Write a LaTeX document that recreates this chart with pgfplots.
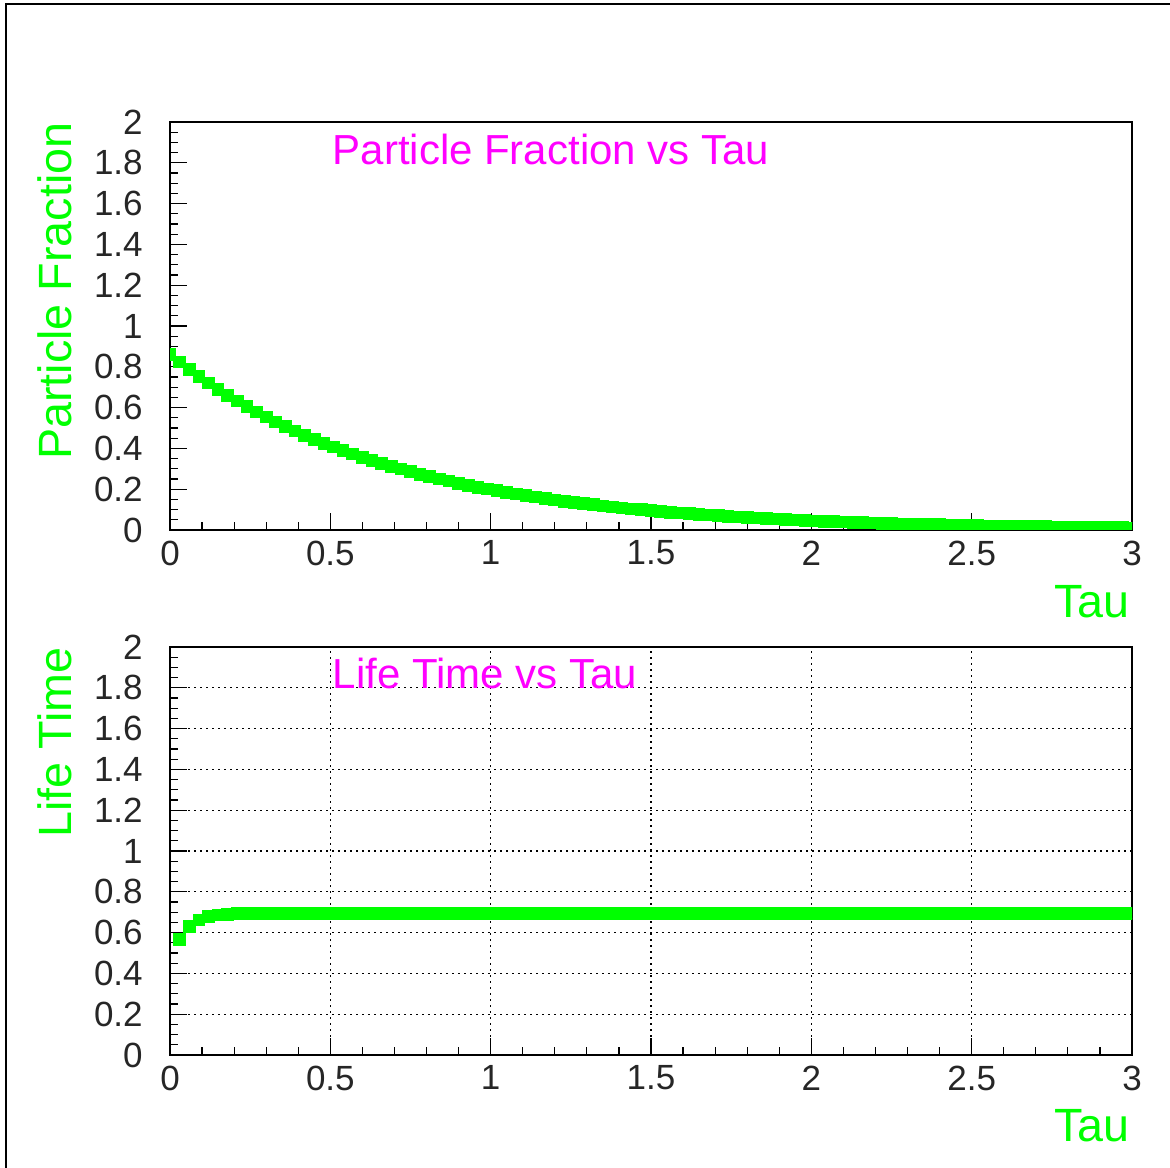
\documentclass[border=0pt]{standalone}
\usepackage{fontspec}
\setmainfont{Liberation Sans}
\usepackage{pgfplots}
\pgfplotsset{compat=1.18}
\definecolor{rgreen}{RGB}{0,255,0}
\definecolor{rmagenta}{RGB}{255,0,255}

\pgfplotsset{
  rootpad/.style={
    scale only axis,
    width=288.6pt, height=122.4pt,
    xmin=0, xmax=3, ymin=0, ymax=2,
    xtick={0,0.5,...,3}, ytick={0,0.2,...,2},
    minor x tick num=4, minor y tick num=3,
    xtick pos=lower, ytick pos=lower,
    tick align=inside,
    major tick length=5.1pt, minor tick length=2.5pt,
    tick style={black, line width=0.35pt},
    axis line style={line width=0.35pt},
    /pgf/number format/assume math mode=true,
    ticklabel style={font=\fontsize{10.5}{12}\selectfont, text=black!85},
    xticklabel style={anchor=north, inner sep=0pt, yshift=-3pt},
    yticklabel style={anchor=east, inner sep=0pt, xshift=-8pt},
    clip=true, clip marker paths=true,
  },
  sq/.style={only marks, mark=square*, mark size=1.7pt,
    mark options={draw=rgreen, fill=rgreen}},
}

\begin{document}
\begin{tikzpicture}[x=0.3pt, y=0.3pt]
\useasboundingbox (0,0) rectangle (1170,1168);
\draw[line width=0.4pt] (6,0) -- (6,1164) -- (1170,1164);

% upper pad
\begin{axis}[rootpad, at={(51pt,191.4pt)}, anchor=south west]
\addplot[sq] coordinates {
(0.00,0.8600) (0.03,0.8229) (0.06,0.7874) (0.09,0.7534) (0.12,0.7209)
(0.15,0.6898) (0.18,0.6601) (0.21,0.6316) (0.24,0.6044) (0.27,0.5783)
(0.30,0.5533) (0.33,0.5295) (0.36,0.5066) (0.39,0.4848) (0.42,0.4639)
(0.45,0.4438) (0.48,0.4247) (0.51,0.4064) (0.54,0.3888) (0.57,0.3721)
(0.60,0.3560) (0.63,0.3407) (0.66,0.3260) (0.69,0.3119) (0.72,0.2984)
(0.75,0.2856) (0.78,0.2733) (0.81,0.2615) (0.84,0.2502) (0.87,0.2394)
(0.90,0.2291) (0.93,0.2192) (0.96,0.2097) (0.99,0.2007) (1.02,0.1920)
(1.05,0.1837) (1.08,0.1758) (1.11,0.1682) (1.14,0.1610) (1.17,0.1540)
(1.20,0.1474) (1.23,0.1410) (1.26,0.1349) (1.29,0.1291) (1.32,0.1236)
(1.35,0.1182) (1.38,0.1131) (1.41,0.1082) (1.44,0.1036) (1.47,0.0991)
(1.50,0.0948) (1.53,0.0907) (1.56,0.0868) (1.59,0.0831) (1.62,0.0795)
(1.65,0.0761) (1.68,0.0728) (1.71,0.0696) (1.74,0.0666) (1.77,0.0638)
(1.80,0.0610) (1.83,0.0584) (1.86,0.0559) (1.89,0.0535) (1.92,0.0511)
(1.95,0.0489) (1.98,0.0468) (2.01,0.0448) (2.04,0.0429) (2.07,0.0410)
(2.10,0.0393) (2.13,0.0376) (2.16,0.0359) (2.19,0.0344) (2.22,0.0329)
(2.25,0.0315) (2.28,0.0301) (2.31,0.0288) (2.34,0.0276) (2.37,0.0264)
(2.40,0.0253) (2.43,0.0242) (2.46,0.0231) (2.49,0.0221) (2.52,0.0212)
(2.55,0.0203) (2.58,0.0194) (2.61,0.0185) (2.64,0.0177) (2.67,0.0170)
(2.70,0.0163) (2.73,0.0156) (2.76,0.0149) (2.79,0.0142) (2.82,0.0136)
(2.85,0.0130) (2.88,0.0125) (2.91,0.0119) (2.94,0.0114) (2.97,0.0109)
(3.00,0.0105)
};
\end{axis}

% lower pad
\begin{axis}[rootpad, at={(51pt,33.9pt)}, anchor=south west,
  grid=major, major grid style={black, line width=0.4pt, dash pattern=on 0.5pt off 1.3pt}]
\addplot[sq] coordinates {
(0.03,0.567) (0.06,0.629) (0.09,0.662) (0.12,0.678) (0.15,0.686)
(0.18,0.690) (0.21,0.692) (0.24,0.693) (0.27,0.694) (0.30,0.694)
(0.33,0.694) (0.36,0.694) (0.39,0.694) (0.42,0.694) (0.45,0.694)
(0.48,0.694) (0.51,0.694) (0.54,0.694) (0.57,0.694) (0.60,0.694)
(0.63,0.694) (0.66,0.694) (0.69,0.694) (0.72,0.694) (0.75,0.694)
(0.78,0.694) (0.81,0.694) (0.84,0.694) (0.87,0.694) (0.90,0.694)
(0.93,0.694) (0.96,0.694) (0.99,0.694) (1.02,0.694) (1.05,0.694)
(1.08,0.694) (1.11,0.694) (1.14,0.694) (1.17,0.694) (1.20,0.694)
(1.23,0.694) (1.26,0.694) (1.29,0.694) (1.32,0.694) (1.35,0.694)
(1.38,0.694) (1.41,0.694) (1.44,0.694) (1.47,0.694) (1.50,0.694)
(1.53,0.694) (1.56,0.694) (1.59,0.694) (1.62,0.694) (1.65,0.694)
(1.68,0.694) (1.71,0.694) (1.74,0.694) (1.77,0.694) (1.80,0.694)
(1.83,0.694) (1.86,0.694) (1.89,0.694) (1.92,0.694) (1.95,0.694)
(1.98,0.694) (2.01,0.694) (2.04,0.694) (2.07,0.694) (2.10,0.694)
(2.13,0.694) (2.16,0.694) (2.19,0.694) (2.22,0.694) (2.25,0.694)
(2.28,0.694) (2.31,0.694) (2.34,0.694) (2.37,0.694) (2.40,0.694)
(2.43,0.694) (2.46,0.694) (2.49,0.694) (2.52,0.694) (2.55,0.694)
(2.58,0.694) (2.61,0.694) (2.64,0.694) (2.67,0.694) (2.70,0.694)
(2.73,0.694) (2.76,0.694) (2.79,0.694) (2.82,0.694) (2.85,0.694)
(2.88,0.694) (2.91,0.694) (2.94,0.694) (2.97,0.694) (3.00,0.694)
};
\end{axis}

% titles and axis titles
\node[anchor=base west, inner sep=0pt, text=rmagenta, font=\fontsize{12.6}{14}\selectfont]
  at (332,1003) {Particle Fraction vs Tau};
\node[anchor=base west, inner sep=0pt, text=rmagenta, font=\fontsize{12.6}{14}\selectfont]
  at (332,479) {Life Time vs Tau};
\node[anchor=base east, inner sep=0pt, text=rgreen, font=\fontsize{14}{16}\selectfont]
  at (1130,550) {Tau};
\node[anchor=base east, inner sep=0pt, text=rgreen, font=\fontsize{14}{16}\selectfont]
  at (1130,26) {Tau};
\node[rotate=90, anchor=base east, inner sep=0pt, text=rgreen, font=\fontsize{14}{16}\selectfont]
  at (72,1046) {Particle Fraction};
\node[rotate=90, anchor=base east, inner sep=0pt, text=rgreen, font=\fontsize{14}{16}\selectfont]
  at (72,521) {Life Time};
\end{tikzpicture}
\end{document}
